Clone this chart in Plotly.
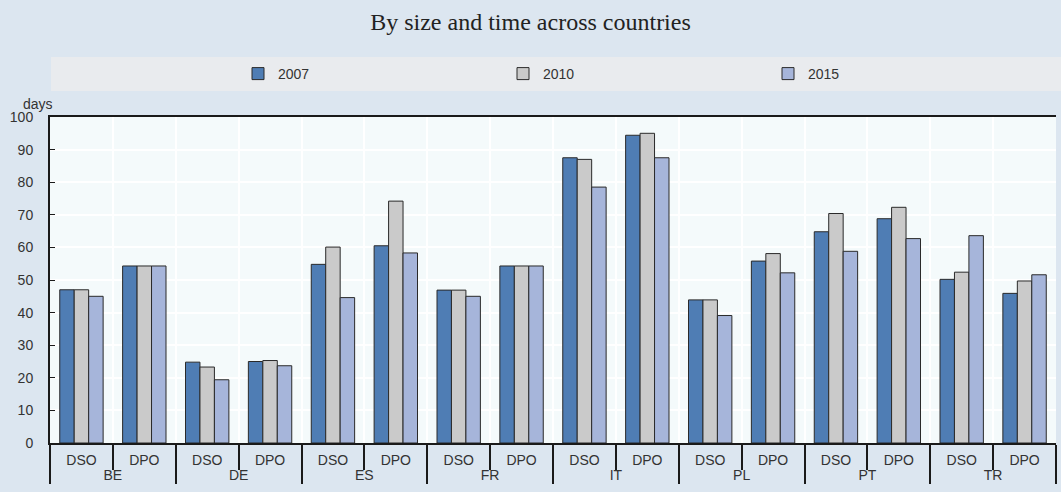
import plotly.graph_objects as go

countries = ["BE", "DE", "ES", "FR", "IT", "PL", "PT", "TR"]
sizes = ["DSO", "DPO"]
years = ["2007", "2010", "2015"]

# values in order: BE-DSO, BE-DPO, DE-DSO, DE-DPO, ...
v2007 = [47.0, 54.3, 24.8, 25.0, 54.8, 60.5, 46.9, 54.3, 87.5, 94.4, 43.9, 55.8, 64.8, 68.8, 50.2, 45.9]
v2010 = [47.0, 54.3, 23.3, 25.3, 60.1, 74.2, 46.9, 54.3, 87.0, 95.0, 43.9, 58.1, 70.4, 72.3, 52.4, 49.7]
v2015 = [45.0, 54.3, 19.4, 23.7, 44.6, 58.3, 45.0, 54.3, 78.5, 87.5, 39.1, 52.2, 58.8, 62.7, 63.6, 51.6]

colors = ["#4F7DB4", "#CACACA", "#A6B5DA"]

lvl0 = [c for c in countries for _ in sizes]
lvl1 = [s for _ in countries for s in sizes]

fig = go.Figure()
for name, vals, col in zip(years, [v2007, v2010, v2015], colors):
    fig.add_trace(go.Bar(
        x=[lvl0, lvl1], y=vals, name=name,
        marker=dict(color=col, line=dict(color="#2A2A2A", width=1)),
    ))

ml, mr, mt, mb = 50, 5, 117, 49
W, H = 1061, 492
pw = W - ml - mr
ph = H - mt - mb

def py(px):
    return 1 + (mt - px) / ph

def pxx(px):
    return (px - ml) / pw

font = dict(family="Arial, Liberation Sans, sans-serif", size=14, color="#333333")

fig.update_layout(
    width=W, height=H,
    margin=dict(l=ml, r=mr, t=mt, b=mb, autoexpand=False),
    paper_bgcolor="#DCE6F0",
    plot_bgcolor="#F4FAFB",
    barmode="group",
    bargap=0.31,
    bargroupgap=0,
    font=font,
    title=dict(text="By size and time across countries", x=0.5, xanchor="center",
               y=1 - 22 / H, yanchor="middle",
               font=dict(family="Times New Roman, Liberation Serif, serif", size=24, color="#222222")),
    showlegend=True,
    legend=dict(orientation="h", x=pxx(238), xanchor="left", y=py(74), yanchor="middle",
                entrywidth=220, entrywidthmode="pixels", bgcolor="rgba(0,0,0,0)",
                font=dict(size=14, color="#333333"), traceorder="normal"),
    shapes=[dict(type="rect", xref="paper", yref="paper", x0=pxx(51), x1=pxx(1061),
                 y0=py(91), y1=py(57), fillcolor="#E9EBEE", line=dict(width=0), layer="below")],
    annotations=[dict(text="days", xref="paper", yref="paper", x=pxx(38), y=py(104),
                      xanchor="center", yanchor="middle", showarrow=False, font=font)],
)

fig.update_xaxes(
    type="multicategory", automargin=False,
    showline=True, linecolor="#1A1A1A", linewidth=2, mirror=True,
    ticks="outside", tickson="boundaries", ticklen=25, tickcolor="#1A1A1A", tickwidth=1.5,
    showgrid=True, gridcolor="#FFFFFF", gridwidth=2,
    showdividers=True, dividercolor="#1A1A1A", dividerwidth=1.5,
    tickfont=font, ticklabelstandoff=3,
)
fig.update_yaxes(
    range=[0, 100], dtick=10, tick0=0, automargin=False,
    showline=True, linecolor="#1A1A1A", linewidth=2,
    ticks="inside", ticklen=5, tickcolor="#1A1A1A",
    showgrid=True, gridcolor="#FFFFFF", gridwidth=2,
    zeroline=False,
    tickfont=font, ticklabelstandoff=12,
)

fig.write_html("out.html", config={"displayModeBar": False},
               post_script="document.body.style.margin='0';document.body.style.background='#DCE6F0';")
